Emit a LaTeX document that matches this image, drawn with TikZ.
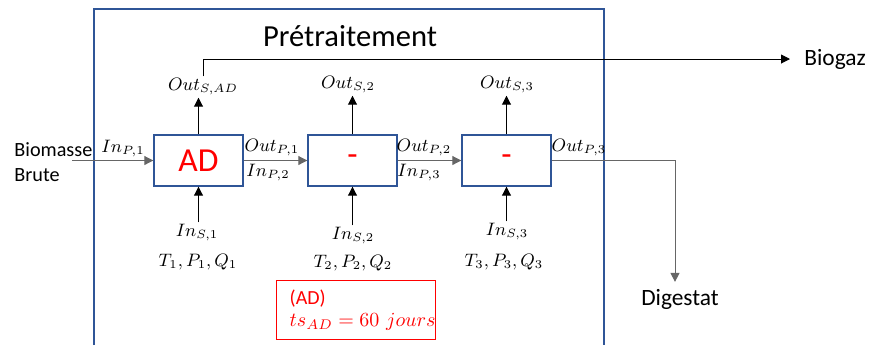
\documentclass[tikz,border=0pt]{standalone}
\usepackage{fontspec}
\setmainfont{Carlito}
\usepackage{amsmath}
\usepackage{xcolor}
\usepackage{tikz}
\usetikzlibrary{positioning, arrows.meta}

\definecolor{frameblue}{HTML}{2F5597}
\definecolor{mred}{HTML}{FF0000}

\begin{document}
\begin{tikzpicture}[x=0.5pt, y=-0.5pt,
    procbox/.style={draw=frameblue, line width=0.7pt, fill=white, minimum width=44.5pt, minimum height=25.5pt, inner sep=0pt, text=mred, font=\fontsize{16.8}{19}\selectfont},
    lbl/.style={font=\fontsize{9}{11}\selectfont, inner sep=1pt},
    txt/.style={font=\fontsize{11.7}{12.5}\selectfont, align=left},
    notebox/.style={draw=mred, line width=0.7pt, text=mred, align=left, text width=66.5pt, inner xsep=6.5pt, minimum height=29.5pt, font=\fontsize{10}{11}\selectfont},
    flow/.style={-{Triangle[length=4.5pt,width=4.5pt]}, line width=0.5pt, black!60},
    upflow/.style={-{Triangle[length=4.5pt,width=4.5pt]}, line width=0.5pt}]
      \useasboundingbox (0,0) rectangle (869,345);

      % cadre du pretraitement
      \draw[frameblue, line width=0.7pt] (94,345) -- (94,9) -- (604,9) -- (604,345);
      \node[font=\fontsize{15.3}{18}\selectfont] (titre) at (350,36) {Prétraitement};

      % procedes
      \node[procbox] (ad) at (198.5,160.5) {AD};
      \node[procbox] (p2) at (352.5,160.5) {-};
      \node[procbox] (p3) at (506.5,160.5) {-};

      % entree / sorties
      \node[txt, anchor=west, inner xsep=2pt, font=\fontsize{10.1}{12.5}\selectfont] (bio) at (10,162) {Biomasse\\Brute};
      \coordinate (src) at (72,160.5);
      \node[txt, anchor=west, inner xsep=7pt] (biogaz) at (790,59) {Biogaz};
      \node[txt] (digestat) at (680,299) {Digestat};

      % etiquettes des flux principaux
      \node[lbl] (inP1) at (123,149) {$In_{P,1}$};
      \node[lbl] (outP1) at (272,148) {$Out_{P,1}$};
      \node[lbl] (inP2) at (268,173) {$In_{P,2}$};
      \node[lbl] (outP2) at (424,148) {$Out_{P,2}$};
      \node[lbl] (inP3) at (419,173) {$In_{P,3}$};
      \node[lbl] (outP3) at (579,148) {$Out_{P,3}$};

      % flux secondaires
      \node[lbl] (outS1) at (203,87) {$Out_{S,AD}$};
      \node[lbl] (outS2) at (348,85) {$Out_{S,2}$};
      \node[lbl] (outS3) at (507,85) {$Out_{S,3}$};
      \node[lbl] (inS1) at (197,233) {$In_{S,1}$};
      \node[lbl] (inS2) at (353,236) {$In_{S,2}$};
      \node[lbl] (inS3) at (507,232) {$In_{S,3}$};
      \node[lbl] (tpq1) at (198,262) {$T_1{,}\,P_1{,}\,Q_1$};
      \node[lbl] (tpq2) at (353,263) {$T_2{,}\,P_2{,}\,Q_2$};
      \node[lbl] (tpq3) at (504,262) {$T_3{,}\,P_3{,}\,Q_3$};

      % note
      \node[notebox, anchor=north west] (note) at (276,280) {(AD)\\\mbox{$ts_{AD} = 60\ jours$}};

      % fleches
      \draw[flow] (src) -- (ad.west);
      \draw[flow] (ad.east) -- (p2.west);
      \draw[flow] (p2.east) -- (p3.west);
      \draw[flow] (p3.east) -| ([xshift=-2.5pt]digestat.north);
      \draw[upflow] (ad.north) -- (ad.north |- outS1.south);
      \draw[upflow] (p2.north) -- (p2.north |- outS2.south);
      \draw[upflow] (p3.north) -- (p3.north |- outS3.south);
      \draw[upflow] (outS1.north) |- (biogaz.west);
      \draw[upflow] (ad.south |- inS1.north) -- (ad.south);
      \draw[upflow] (p2.south |- inS2.north) -- (p2.south);
      \draw[upflow] (p3.south |- inS3.north) -- (p3.south);
    \end{tikzpicture}
\end{document}
